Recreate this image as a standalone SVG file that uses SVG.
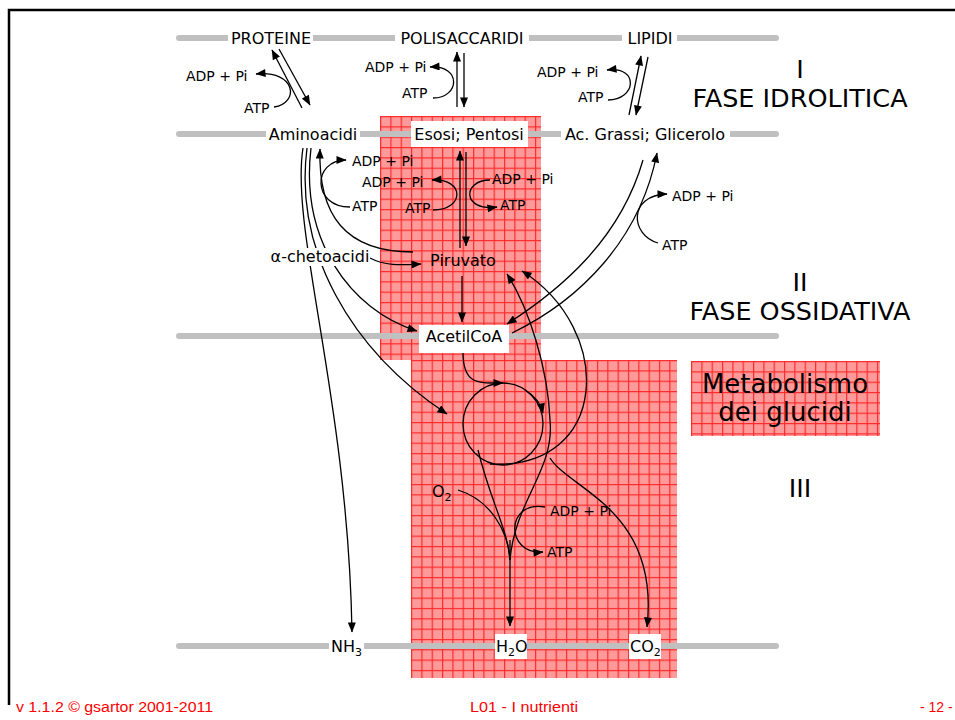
<svg xmlns="http://www.w3.org/2000/svg" width="955" height="720" viewBox="0 0 955 720">
<style>
.lbl{font-family:"DejaVu Sans","Verdana",sans-serif;font-size:16px;fill:#000}
.sm{font-family:"DejaVu Sans","Verdana",sans-serif;font-size:14px;fill:#000}
.big{font-family:"DejaVu Sans","Verdana",sans-serif;font-size:25.5px;fill:#000}
.foot{font-family:"Liberation Sans",Arial,sans-serif;font-size:14px;fill:#ff0000}
.gl{stroke:#c0c0c0;stroke-width:6;stroke-linecap:round;fill:none}
.c{stroke:#000;stroke-width:1.3;fill:none}
.a{stroke:#000;stroke-width:1.3;fill:none;marker-end:url(#ah)}
.wb{fill:#fff}
</style>
<defs>
<marker id="ah" viewBox="0 0 10 8" refX="9.5" refY="4" markerWidth="11" markerHeight="8" orient="auto" markerUnits="userSpaceOnUse"><path d="M0,0 L10,4 L0,8 z" fill="#000"/></marker>
<pattern id="g1" patternUnits="userSpaceOnUse" x="380" y="116" width="10.33" height="10.33"><rect width="10.33" height="10.33" fill="#ff9a9a"/><rect width="1.2" height="10.33" fill="#ff2a2a"/><rect width="10.33" height="1.2" fill="#ff2a2a"/></pattern>
<pattern id="g2" patternUnits="userSpaceOnUse" x="411" y="360" width="10.33" height="10.33"><rect width="10.33" height="10.33" fill="#ff9a9a"/><rect width="1.2" height="10.33" fill="#ff2a2a"/><rect width="10.33" height="1.2" fill="#ff2a2a"/></pattern>
<pattern id="g3" patternUnits="userSpaceOnUse" x="691" y="361" width="10.33" height="10.33"><rect width="10.33" height="10.33" fill="#ff9a9a"/><rect width="1.2" height="10.33" fill="#ff2a2a"/><rect width="10.33" height="1.2" fill="#ff2a2a"/></pattern>
</defs>
<rect width="955" height="720" fill="#fff"/>
<path d="M9,705 L9,10 L955,10" stroke="#000" stroke-width="2.5" fill="none"/>

<g id="regions">
<rect x="380" y="116" width="161" height="244" fill="url(#g1)"/>
<rect x="411" y="360" width="266" height="318" fill="url(#g2)"/>
</g>

<g id="levels">
<line class="gl" x1="179" y1="38" x2="776" y2="38"/>
<line class="gl" x1="179" y1="134" x2="776" y2="134"/>
<line class="gl" x1="179" y1="336" x2="776" y2="336"/>
<line class="gl" x1="179" y1="646" x2="776" y2="646"/>
</g>

<g id="connectors">
<path class="a" d="M302,108 L272,50"/>
<path class="a" d="M279,49 L310,105"/>
<path class="a" d="M274,107 C300,103 296,70 256,74"/>
<path class="a" d="M457,107 L457,52"/>
<path class="a" d="M464,53 L464,107"/>
<path class="a" d="M433,98 C460,98 462,65 430,67"/>
<path class="a" d="M629,115 L641,56"/>
<path class="a" d="M648,57 L636,115"/>
<path class="a" d="M608,100 C636,100 640,66 607,70"/>
<path class="a" d="M303,148 C290,230 348,400 352,632"/>
<path class="a" d="M307,148 C294,250 350,350 447,414"/>
<path class="a" d="M311,148 C300,240 350,310 417,331"/>
<path class="a" d="M413,252 C345,252 318,215 320,149"/>
<path class="a" d="M370,258 C385,266 400,265 421,264"/>
<path class="a" d="M350,207 C312,207 312,160 346,160"/>
<path class="a" d="M460,248 L460,151"/>
<path class="a" d="M466,152 L466,246"/>
<path class="a" d="M433,210 C465,210 465,178 432,180"/>
<path class="a" d="M490,180 C462,180 462,212 497,207"/>
<path class="a" d="M462,276 L462,322"/>
<path class="a" d="M643,160 C620,240 560,290 507,324"/>
<path class="a" d="M512,333 C580,300 640,240 657,153"/>
<path class="a" d="M658,243 C630,235 628,195 667,194"/>
<ellipse class="c" cx="503" cy="424" rx="40" ry="41"/>
<path class="a" d="M463,352 C463,385 478,383 503,383"/>
<path class="a" d="M525,390 C535,396 541,404 543,413"/>
<path class="a" d="M490,464 C610,470 615,330 522,271"/>
<path class="a" d="M510,560 C515,500 555,470 550,420 C548,370 530,310 507,274"/>
<path class="c" d="M478,450 C490,500 508,530 510,560"/>
<path class="c" d="M458,490 C490,500 508,530 510,560"/>
<path class="a" d="M510,540 L510,626"/>
<path class="a" d="M550,458 C570,490 660,510 647,627"/>
<path class="a" d="M545,507 C505,500 505,555 543,552"/>
</g>

<g id="n-proteine"><rect class="wb" x="228" y="28" width="85" height="20"/><text class="lbl" x="271" y="44" text-anchor="middle">PROTEINE</text></g>
<g id="n-polisaccaridi"><rect class="wb" x="395" y="28" width="134" height="20"/><text class="lbl" x="462" y="44" text-anchor="middle">POLISACCARIDI</text></g>
<g id="n-lipidi"><rect class="wb" x="622" y="28" width="55" height="20"/><text class="lbl" x="650" y="44" text-anchor="middle">LIPIDI</text></g>
<g id="n-aminoacidi"><rect class="wb" x="266" y="124" width="94" height="20"/><text class="lbl" x="313" y="140" text-anchor="middle">Aminoacidi</text></g>
<g id="n-esosi"><rect class="wb" x="411" y="121" width="117" height="26"/><text class="lbl" x="469" y="140" text-anchor="middle">Esosi; Pentosi</text></g>
<g id="n-acgrassi"><rect class="wb" x="561" y="124" width="169" height="20"/><text class="lbl" x="645" y="140" text-anchor="middle">Ac. Grassi; Glicerolo</text></g>
<g id="n-chetoacidi"><rect class="wb" x="271" y="248" width="99" height="18"/><text class="lbl" x="320" y="262" text-anchor="middle">α-chetoacidi</text></g>
<g id="n-piruvato"><text class="lbl" x="463" y="266" text-anchor="middle">Piruvato</text></g>
<g id="n-acetilcoa"><rect class="wb" x="419" y="325" width="90" height="28"/><text class="lbl" x="464" y="342" text-anchor="middle">AcetilCoA</text></g>
<g id="n-nh3"><rect class="wb" x="329" y="636" width="35" height="20"/><text class="lbl" x="331" y="652">NH<tspan font-size="11" dy="4">3</tspan></text></g>
<g id="n-h2o"><rect class="wb" x="495" y="634" width="32" height="25"/><text class="lbl" x="496" y="652">H<tspan font-size="11" dy="4">2</tspan><tspan dy="-4">O</tspan></text></g>
<g id="n-co2"><rect class="wb" x="629" y="634" width="32" height="25"/><text class="lbl" x="630" y="652">CO<tspan font-size="11" dy="4">2</tspan></text></g>
<g id="n-o2"><text class="lbl" x="432" y="497">O<tspan font-size="11" dy="4">2</tspan></text></g>

<g id="energy">
<text class="sm" x="186" y="81">ADP + Pi</text><text class="sm" x="244" y="113">ATP</text>
<text class="sm" x="365" y="72">ADP + Pi</text><text class="sm" x="402" y="98">ATP</text>
<text class="sm" x="537" y="77">ADP + Pi</text><text class="sm" x="578" y="102">ATP</text>
<text class="sm" x="352" y="166">ADP + Pi</text><text class="sm" x="352" y="211">ATP</text>
<text class="sm" x="362" y="187">ADP + Pi</text><text class="sm" x="405" y="213">ATP</text>
<text class="sm" x="492" y="184">ADP + Pi</text><text class="sm" x="500" y="210">ATP</text>
<text class="sm" x="672" y="201">ADP + Pi</text><text class="sm" x="662" y="250">ATP</text>
<text class="sm" x="550" y="516">ADP + Pi</text><text class="sm" x="547" y="557">ATP</text>
</g>

<g id="phases">
<text class="big" x="800" y="78" text-anchor="middle">I</text>
<text class="big" x="800" y="107" text-anchor="middle">FASE IDROLITICA</text>
<text class="big" x="800" y="291" text-anchor="middle">II</text>
<text class="big" x="800" y="320" text-anchor="middle">FASE OSSIDATIVA</text>
<text class="big" x="800" y="497" text-anchor="middle">III</text>
</g>

<g id="legend">
<rect x="691" y="361" width="189" height="75" fill="url(#g3)"/>
<text class="big" style="font-size:26px" x="785" y="393" text-anchor="middle">Metabolismo</text>
<text class="big" style="font-size:26px" x="785" y="421" text-anchor="middle">dei glucidi</text>
</g>

<g id="footer">
<text class="foot" x="16" y="712" textLength="197" lengthAdjust="spacingAndGlyphs">v 1.1.2 © gsartor 2001-2011</text>
<text class="foot" x="470" y="712" textLength="108" lengthAdjust="spacingAndGlyphs">L01 - I nutrienti</text>
<text class="foot" x="920" y="712">- 12 -</text>
</g>
</svg>
